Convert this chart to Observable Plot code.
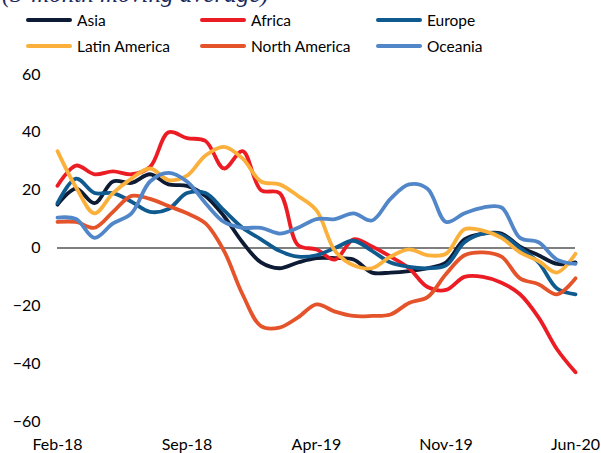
<!DOCTYPE html>
<html>
<head>
<meta charset="utf-8">
<script src="https://cdn.jsdelivr.net/npm/d3@7"></script>
<script src="https://cdn.jsdelivr.net/npm/@observablehq/plot@0.6"></script>
<style>
  body { margin: 0; background: #fff; width: 601px; height: 453px; overflow: hidden; position: relative; font-family: Lato, "Open Sans", sans-serif; }
  #title { position: absolute; left: 2px; top: -20px; font-family: "Liberation Serif", "DejaVu Serif", serif; font-style: italic; font-size: 25px; color: #1b2a5c; white-space: nowrap; }
  #legend { position: absolute; left: 0; top: 0; width: 601px; height: 60px; }
  .item { position: absolute; display: flex; align-items: center; font-size: 15.5px; color: #000; }
  .sw { width: 46px; height: 4px; border-radius: 2px; margin-right: 5px; }
  #chart { position: absolute; left: 0; top: 60px; }
</style>
</head>
<body>
<div id="title">(3-month moving average)</div>
<div id="legend"></div>
<div id="chart"></div>
<script>
const months = ["Feb-18","Mar-18","Apr-18","May-18","Jun-18","Jul-18","Aug-18","Sep-18","Oct-18","Nov-18","Dec-18",
  "Jan-19","Feb-19","Mar-19","Apr-19","May-19","Jun-19","Jul-19","Aug-19","Sep-19","Oct-19","Nov-19","Dec-19",
  "Jan-20","Feb-20","Mar-20","Apr-20","May-20","Jun-20"];
const tickLabels = ["Feb-18","Sep-18","Apr-19","Nov-19","Jun-20"];
const seriesNames = ["Asia","Africa","Europe","Latin America","North America","Oceania"];
const colors = ["#0d1b35","#ec1c24","#0f5a8e","#fbb03b","#e4532a","#5187c8"];

const asia = [15,20.5,15.5,23,22.5,25.5,22,21.5,18,11,2,-5,-7,-5,-3.5,-3.5,-4,-8.5,-8.5,-8,-7,-5,3,5,5,0.5,-2.5,-5.5,-5];
const africa = [21.5,28.5,25.5,26.5,25.5,28,40,38,37,27.5,33.5,20,19,1,-0.5,-4,3,0.5,-3,-7,-13.5,-14.5,-10,-10,-12,-16,-24,-35,-43];
const europe = [15.5,24,19,19,16,12.5,13.5,19,19,13,7,3,-1,-3,-2.5,0,2.5,-1,-5,-6.5,-7,-6,2,5,4.5,0,-5,-14,-16];
const latinAmerica = [33.5,21,12,19,24,27.5,23.5,25,32,35,31,23,22,18,13,-1,-6,-7,-3,-0.5,-2.5,-2,6.5,6,3.5,-1.5,-4.5,-8.5,-2];
const northAmerica = [9,9,7,12.5,18,17,14.5,12,8.5,-1,-16,-27,-27.5,-24,-19.5,-22,-23.5,-23.5,-23,-19,-17,-9,-2.5,-1.5,-3,-10.5,-12.5,-16,-10.5];
const oceania = [10.5,10,3.5,8.5,12,23,26,23,15.5,9,7,7,5,7,10,10,12,9.5,17,22,20.5,9,12,14,14,3.5,2,-4,-5.5];

const yTicks = [-60,-40,-20,0,20,40,60];

const allValues = [asia, africa, europe, latinAmerica, northAmerica, oceania];
const data = [];
seriesNames.forEach((name, s) => {
  allValues[s].forEach((v, i) => data.push({series: name, i, value: v}));
});

// legend
const legend = document.getElementById("legend");
const legendPos = [[26,22],[200,22],[376,22],[26,48],[200,48],[376,48]];
seriesNames.forEach((name, k) => {
  const d = document.createElement("div");
  d.className = "item";
  d.style.left = legendPos[k][0] + "px";
  d.style.top = (legendPos[k][1] - 11) + "px";
  d.innerHTML = `<span class="sw" style="background:${colors[k]}"></span><span>${name}</span>`;
  legend.appendChild(d);
});

const chart = Plot.plot({
  width: 601,
  height: 393,
  marginLeft: 57,
  marginRight: 26,
  marginTop: 14,
  marginBottom: 32,
  style: {fontFamily: "Lato, 'Open Sans', sans-serif", fontSize: "16px", color: "#000", background: "#fff", overflow: "visible"},
  x: {domain: [0, months.length - 1], ticks: tickLabels.map(t => months.indexOf(t)), tickFormat: i => months[i], tickSize: 0, tickPadding: 17, label: null},
  y: {domain: [-60, 60], ticks: yTicks, tickSize: 0, tickPadding: 17, label: null},
  color: {domain: seriesNames, range: colors},
  marks: [
    Plot.ruleY([0], {stroke: "#000", strokeWidth: 1.2}),
    Plot.line(data, {x: "i", y: "value", z: "series", stroke: "series", strokeWidth: 3.8, curve: "catmull-rom"})
  ]
});
document.getElementById("chart").appendChild(chart);
</script>
</body>
</html>
